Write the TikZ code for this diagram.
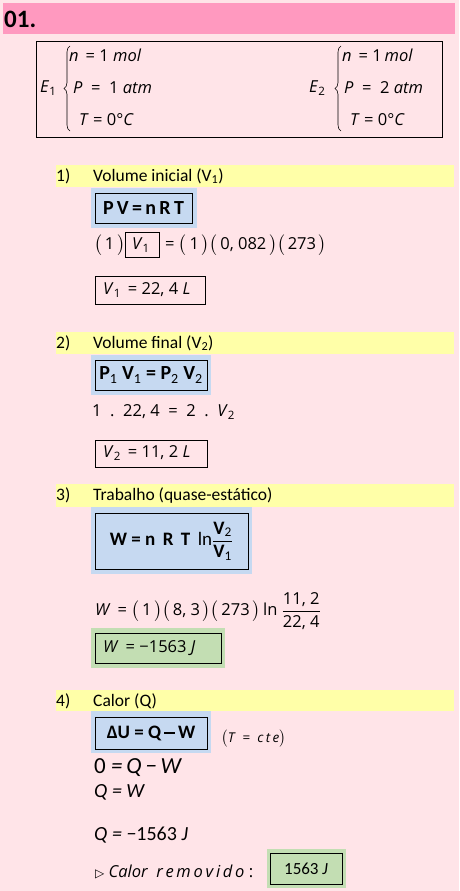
\documentclass[tikz,border=0pt]{standalone}
\usepackage{fontspec}
\usepackage{amsmath}
\setmainfont{Carlito}
\newfontfamily\vsans{Open Sans}
\newfontfamily\symf{DejaVu Sans}
\usetikzlibrary{decorations.pathreplacing}
\definecolor{bgpink}{HTML}{FFE4E8}
\definecolor{titlepink}{HTML}{FF99BF}
\definecolor{hlyellow}{HTML}{FFFFA8}
\definecolor{hlblue}{HTML}{C6D9F1}
\definecolor{hlgreen}{HTML}{C3DEB3}
\newcommand{\fs}[1]{\fontsize{#1}{#1}\selectfont}
\newcommand{\lp}{\ensuremath{\bigl(}\,}
\newcommand{\rp}{\,\ensuremath{\bigr)}}
\tikzset{
  lt/.style={anchor=west, inner sep=0pt, font=\vsans\fs{16.5}},
  ct/.style={anchor=center, inner sep=0pt, font=\vsans\fs{16.5}},
  head/.style={anchor=west, inner sep=0pt, font=\fs{17.5}},
  bform/.style={anchor=center, inner sep=0pt, font=\bfseries\fs{20}},
  cform/.style={anchor=west, inner sep=0pt, font=\itshape\fs{20}},
  frame/.style={draw=black, line width=0.8pt},
  brc/.style={decorate, decoration={brace, amplitude=6pt}, line width=0.6pt},
}
\begin{document}
\begin{tikzpicture}[x=1pt,y=-1pt]
\useasboundingbox (0,0) rectangle (459,891);
\fill[bgpink] (0,0) rectangle (459,891);
% title
\fill[titlepink] (3,3) rectangle (455,34);
\node[anchor=west, inner sep=0pt, font=\bfseries\fs{25}] (title) at (4,19) {01.};
% states box
\draw[frame] (36,41) rectangle (442,137);
\node[lt] (e1) at (40,88) {\textit{E}\textsubscript{1}};
\draw[brc] (70,131) -- (70,46);
\node[lt] (n1) at (69,55) {\textit{n}\ \,= 1 \textit{mol}};
\node[lt] (p1) at (73,88) {\textit{P}\ \ =\ \ 1 \textit{atm}};
\node[lt] (t1) at (79,120) {\textit{T}\ = 0°\textit{C}};
\node[lt] (e2) at (309,88) {\textit{E}\textsubscript{2}};
\draw[brc] (341,131) -- (341,46);
\node[lt] (n2) at (342,55) {\textit{n}\ \,= 1\,\textit{mol}};
\node[lt] (p2) at (344,88) {\textit{P}\ \ =\ \ 2 \textit{atm}};
\node[lt] (t2) at (350,120) {\textit{T}\ = 0°\textit{C}};
% section 1
\fill[hlyellow] (56,165) rectangle (454,187);
\node[head] (h1n) at (56,176) {1)};
\node[head] (h1) at (93,176) {Volume inicial (V\textsubscript{1})};
\fill[hlblue] (91,188) rectangle (197,228);
\draw[frame] (95,193) rectangle (192,223);
\node[bform] (f1) at (143.5,208) {P\,V\,=\,n\,R\,T};
\node[lt] (c1a) at (94,245) {\lp1\rp};
\draw[frame] (125,232) rectangle (159,257);
\node[ct] (c1v) at (141,245) {\textit{V}\textsubscript{1}};
\node[lt] (c1b) at (165,245) {= \lp1\rp\lp0, 082\rp\lp273\rp};
\draw[frame] (95,276) rectangle (205,304);
\node[lt] (r1) at (103,290) {\textit{V}\textsubscript{1}\ \,= 22, 4 \textit{L}};
% section 2
\fill[hlyellow] (56,332) rectangle (454,354);
\node[head] (h2n) at (56,343) {2)};
\node[head] (h2) at (93,343) {Volume final (V\textsubscript{2})};
\fill[hlblue] (91,355) rectangle (211,395);
\draw[frame] (95,360) rectangle (207,390);
\node[bform] (f2) at (151,375) {P\textsubscript{\mdseries 1} V\textsubscript{\mdseries 1} = P\textsubscript{\mdseries 2} V\textsubscript{\mdseries 2}};
\node[lt] (c2) at (92,412) {1\ \ .\ \ 22, 4\ \ =\ \ 2\ \ .\ \ \textit{V}\textsubscript{2}};
\draw[frame] (95,440) rectangle (207,467);
\node[lt] (r2) at (103,453) {\textit{V}\textsubscript{2}\ \,= 11, 2 \textit{L}};
% section 3
\fill[hlyellow] (56,484) rectangle (454,507);
\node[head] (h3n) at (56,495.5) {3)};
\node[head] (h3) at (93,495.5) {Trabalho (quase-estático)};
\fill[hlblue] (91,507) rectangle (252,574);
\draw[frame] (95,513) rectangle (248,569);
\node[bform, font=\bfseries\fs{19}] (f3) at (171.5,541) {W = n\,\ R\,\ T\, \mdseries ln\ensuremath{\dfrac{\text{\bfseries V\textsubscript{\mdseries 2}}}{\text{\bfseries V\textsubscript{\mdseries 1}}}}};
\node[lt] (c3) at (95,611) {\textit{W}\ \,= \lp1\rp\lp8, 3\rp\lp273\rp\,ln\ \ensuremath{\dfrac{\text{\vsans\fs{16.5}11, 2}}{\text{\vsans\fs{16.5}22, 4}}}};
\fill[hlgreen] (91,628) rectangle (225,668);
\draw[frame] (95,633) rectangle (221,663);
\node[lt] (r3) at (103,648) {\textit{W}\ \,= −1563 \textit{J}};
% section 4
\fill[hlyellow] (56,690) rectangle (454,711);
\node[head] (h4n) at (56,701) {4)};
\node[head] (h4) at (93,701) {Calor (Q)};
\fill[hlblue] (91,711) rectangle (211,753);
\draw[frame] (95,717) rectangle (207,749);
\node[bform, font=\bfseries\fs{19}] (f4) at (151,733) {ΔU = Q\,\raisebox{0.22em}{\rule{0.55em}{0.09em}}\,W};
\node[lt, font=\vsans\fs{13.5}] (cte) at (221,739) {\ensuremath{\bigl(}\textit{T}\ \ =\ \ \textit{c\,t\,e}\ensuremath{\bigr)}};
\node[cform, font=\itshape\fs{23}] (q1) at (94,768) {\upshape0\itshape\ =\,Q\,−\,W};
\node[cform] (q2) at (94,792) {Q = W};
\node[cform] (q3) at (94,835) {Q = −\upshape1563 \itshape J};
\node[lt] (q4) at (95,872) {{\symf\fs{12}▷} \textit{Calor\ \ r\,e\,m\,o\,v\,i\,d\,o} :};
\fill[hlgreen] (267,849) rectangle (346,888);
\draw[frame] (270,853) rectangle (342,884);
\node[anchor=center, inner sep=0pt, font=\fs{17}] (r4) at (306,868.5) {1563 \textit{J}};
\end{tikzpicture}
\end{document}
